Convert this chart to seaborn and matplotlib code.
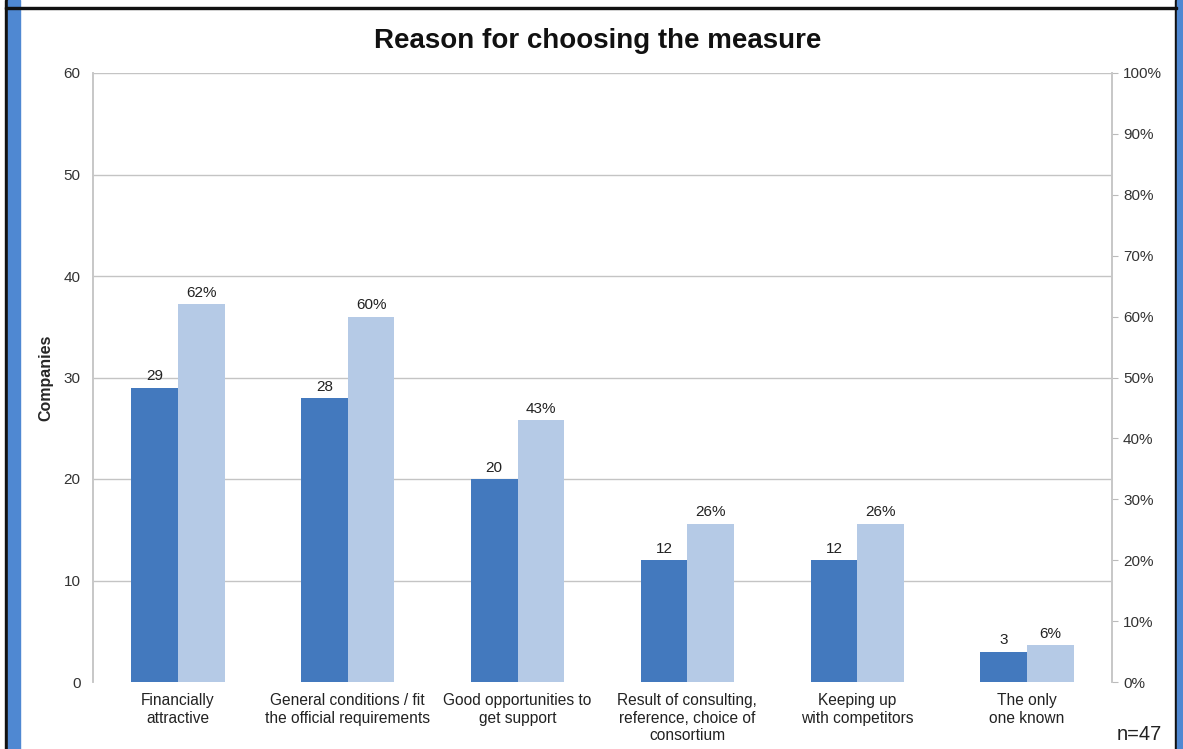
import matplotlib
matplotlib.use("Agg")
import matplotlib.pyplot as plt
from matplotlib.patches import Rectangle
import pandas as pd
import seaborn as sns

# Survey results (n = 47 companies)
reasons = [
    "Financially\nattractive",
    "General conditions / fit\nthe official requirements",
    "Good opportunities to\nget support",
    "Result of consulting,\nreference, choice of\nconsortium",
    "Keeping up\nwith competitors",
    "The only\none known",
]
companies = [29, 28, 20, 12, 12, 3]
share_pct = [62, 60, 43, 26, 26, 6]
left_ticks = [0, 10, 20, 30, 40, 50, 60]
right_ticks = [0, 10, 20, 30, 40, 50, 60, 70, 80, 90, 100]

series_order = ["Companies", "Share"]
palette = {"Companies": "#4379BE", "Share": "#B5CAE6"}


def long_table(values, series):
    """Both series for the dodge layout; the other series is a zero placeholder."""
    rows = []
    for r, v in zip(reasons, values):
        for s in series_order:
            rows.append({"reason": r, "series": s, "value": v if s == series else 0})
    return pd.DataFrame(rows)


df_count = long_table(companies, "Companies")
df_share = long_table(share_pct, "Share")

sns.set_theme(style="white")
plt.rcParams["font.family"] = ["Liberation Sans", "DejaVu Sans"]

W, H = 1183, 749
fig = plt.figure(figsize=(W / 100, H / 100), dpi=100)
ax = fig.add_axes([93 / W, 1 - 682 / H, (1112 - 93) / W, (682 - 73) / H])

# horizontal grid for the count axis
for v in left_ticks[1:]:
    ax.axhline(v, color="#C4C4C4", lw=1.0, zorder=0)

sns.barplot(data=df_count, x="reason", y="value", hue="series",
            hue_order=series_order, order=reasons, palette=palette,
            width=0.55, saturation=1, linewidth=0, ax=ax, legend=False, zorder=2)
ax.set_ylim(0, 60)
ax.set_xlim(-0.5, len(reasons) - 0.5)
ax.set_yticks(left_ticks)
ax.set_yticklabels([str(t) for t in left_ticks], fontsize=11, color="#333333")
ax.set_xlabel("")
ax.set_ylabel("Companies", fontsize=11.5, fontweight="bold", labelpad=7)
ax.tick_params(axis="x", length=0, labelsize=11.2, pad=8, colors="#222222")
ax.tick_params(axis="y", length=0, pad=9)

ax2 = ax.twinx()
sns.barplot(data=df_share, x="reason", y="value", hue="series",
            hue_order=series_order, order=reasons, palette=palette,
            width=0.55, saturation=1, linewidth=0, ax=ax2, legend=False, zorder=2)
ax2.set_ylim(0, 100)
ax2.set_yticks(right_ticks)
ax2.set_yticklabels([f"{t}%" for t in right_ticks], fontsize=11, color="#333333")
ax2.set_ylabel("")
ax2.tick_params(axis="y", length=4, width=0.8, color="#BBBBBB", pad=4)

# drop the zero placeholders, keep the real series on each axis
for p in list(ax.containers[1]):
    p.remove()
for p in list(ax2.containers[0]):
    p.remove()

for a in (ax, ax2):
    for side in ("top", "bottom"):
        a.spines[side].set_visible(False)
    a.spines["left"].set_color("#C8C8C8")
    a.spines["right"].set_color("#C8C8C8")

ax.bar_label(ax.containers[0], fmt="{:.0f}", padding=3, fontsize=11, color="#222222")
ax2.bar_label(ax2.containers[1], fmt="{:.0f}%", padding=3, fontsize=11, color="#222222")

fig.text(598 / W, 1 - 41 / H, "Reason for choosing the measure",
         ha="center", va="center", fontsize=20, fontweight="bold", color="#111111")
fig.text(1139 / W, 1 - 735 / H, "n=47", ha="center", va="center",
         fontsize=14.5, color="#222222")

# page frame: blue side bars and dark top rule
frame = [
    (5, 0, 3, H, "#111111"),
    (8, 0, 12, H, "#4F88D2"),
    (1175, 0, 2, H, "#111111"),
    (1177, 0, 6, H, "#4F88D2"),
    (5, H - 9, 1172, 2, "#111111"),
]
for x0, y0, w, h, c in frame:
    fig.patches.append(Rectangle((x0 / W, y0 / H), w / W, h / H,
                                 transform=fig.transFigure, color=c, zorder=5))

fig.savefig("out.png", dpi=100)
